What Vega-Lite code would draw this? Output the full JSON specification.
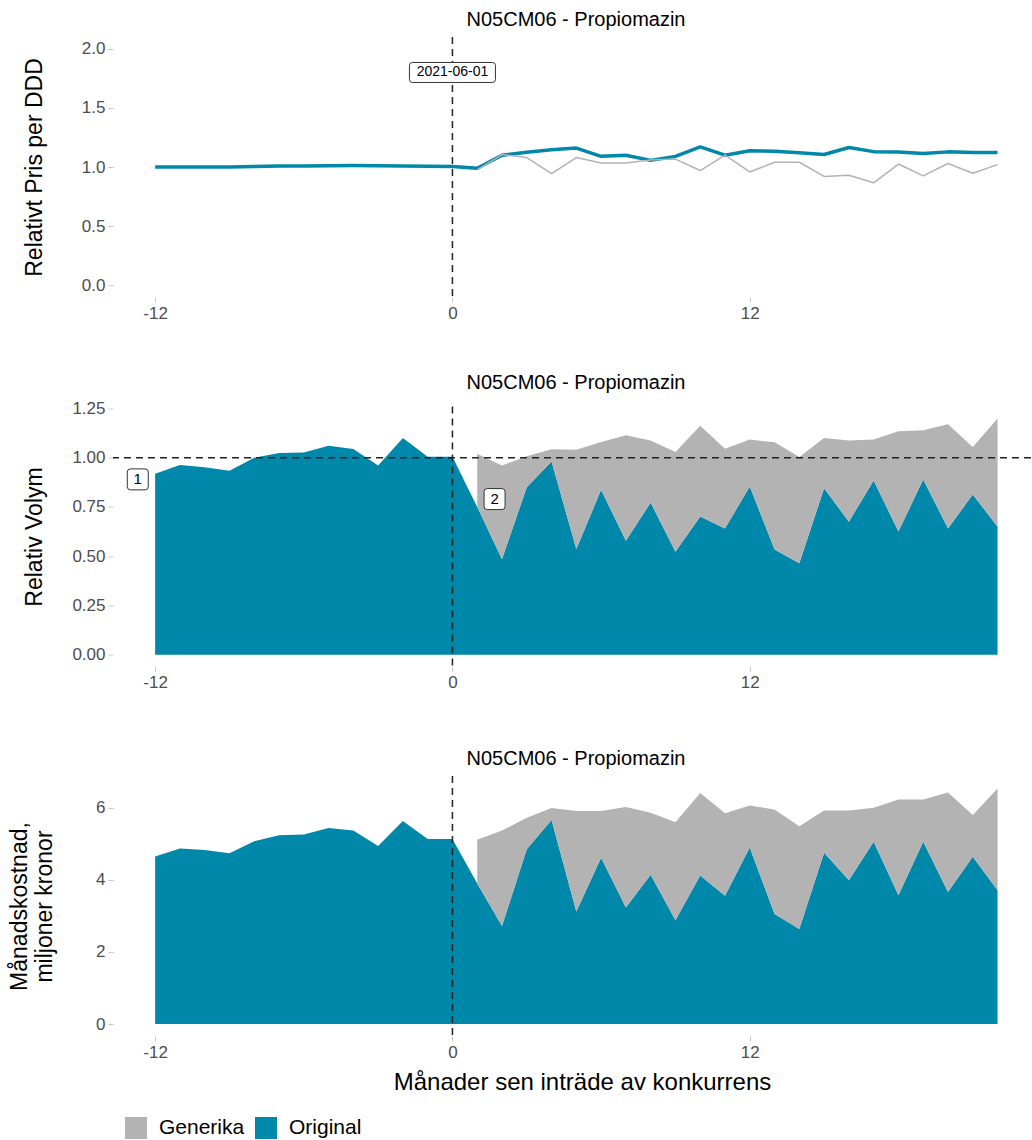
{
  "$schema": "https://vega.github.io/schema/vega-lite/v6.json",
  "padding": {"left": 8, "top": 10, "right": 0, "bottom": 0},
  "spacing": 109.5,
  "bounds": "flush",
  "resolve": {"legend": {"color": "independent"}},
  "datasets": {
    "price": [
      {"month": -12, "type": "Original", "value": 1.000},
      {"month": -11, "type": "Original", "value": 1.000},
      {"month": -10, "type": "Original", "value": 1.000},
      {"month": -9, "type": "Original", "value": 1.001},
      {"month": -8, "type": "Original", "value": 1.005},
      {"month": -7, "type": "Original", "value": 1.008},
      {"month": -6, "type": "Original", "value": 1.009},
      {"month": -5, "type": "Original", "value": 1.010},
      {"month": -4, "type": "Original", "value": 1.012},
      {"month": -3, "type": "Original", "value": 1.010},
      {"month": -2, "type": "Original", "value": 1.009},
      {"month": -1, "type": "Original", "value": 1.007},
      {"month": 0, "type": "Original", "value": 1.005},
      {"month": 1, "type": "Original", "value": 0.990},
      {"month": 2, "type": "Original", "value": 1.100},
      {"month": 3, "type": "Original", "value": 1.125},
      {"month": 4, "type": "Original", "value": 1.145},
      {"month": 5, "type": "Original", "value": 1.160},
      {"month": 6, "type": "Original", "value": 1.090},
      {"month": 7, "type": "Original", "value": 1.100},
      {"month": 8, "type": "Original", "value": 1.056},
      {"month": 9, "type": "Original", "value": 1.090},
      {"month": 10, "type": "Original", "value": 1.170},
      {"month": 11, "type": "Original", "value": 1.100},
      {"month": 12, "type": "Original", "value": 1.137},
      {"month": 13, "type": "Original", "value": 1.134},
      {"month": 14, "type": "Original", "value": 1.120},
      {"month": 15, "type": "Original", "value": 1.106},
      {"month": 16, "type": "Original", "value": 1.165},
      {"month": 17, "type": "Original", "value": 1.130},
      {"month": 18, "type": "Original", "value": 1.126},
      {"month": 19, "type": "Original", "value": 1.115},
      {"month": 20, "type": "Original", "value": 1.128},
      {"month": 21, "type": "Original", "value": 1.123},
      {"month": 22, "type": "Original", "value": 1.123},
      {"month": 1, "type": "Generika", "value": 0.975},
      {"month": 2, "type": "Generika", "value": 1.105},
      {"month": 3, "type": "Generika", "value": 1.080},
      {"month": 4, "type": "Generika", "value": 0.944},
      {"month": 5, "type": "Generika", "value": 1.080},
      {"month": 6, "type": "Generika", "value": 1.034},
      {"month": 7, "type": "Generika", "value": 1.034},
      {"month": 8, "type": "Generika", "value": 1.060},
      {"month": 9, "type": "Generika", "value": 1.067},
      {"month": 10, "type": "Generika", "value": 0.970},
      {"month": 11, "type": "Generika", "value": 1.100},
      {"month": 12, "type": "Generika", "value": 0.958},
      {"month": 13, "type": "Generika", "value": 1.040},
      {"month": 14, "type": "Generika", "value": 1.040},
      {"month": 15, "type": "Generika", "value": 0.920},
      {"month": 16, "type": "Generika", "value": 0.930},
      {"month": 17, "type": "Generika", "value": 0.866},
      {"month": 18, "type": "Generika", "value": 1.025},
      {"month": 19, "type": "Generika", "value": 0.925},
      {"month": 20, "type": "Generika", "value": 1.030},
      {"month": 21, "type": "Generika", "value": 0.947},
      {"month": 22, "type": "Generika", "value": 1.020}
    ],
    "volume": [
      {"month": -12, "type": "Original", "value": 0.918},
      {"month": -11, "type": "Original", "value": 0.963},
      {"month": -10, "type": "Original", "value": 0.952},
      {"month": -9, "type": "Original", "value": 0.934},
      {"month": -8, "type": "Original", "value": 1.000},
      {"month": -7, "type": "Original", "value": 1.024},
      {"month": -6, "type": "Original", "value": 1.027},
      {"month": -5, "type": "Original", "value": 1.061},
      {"month": -4, "type": "Original", "value": 1.044},
      {"month": -3, "type": "Original", "value": 0.961},
      {"month": -2, "type": "Original", "value": 1.100},
      {"month": -1, "type": "Original", "value": 1.005},
      {"month": 0, "type": "Original", "value": 1.005},
      {"month": 1, "type": "Original", "value": 0.750},
      {"month": 2, "type": "Original", "value": 0.485},
      {"month": 3, "type": "Original", "value": 0.850},
      {"month": 4, "type": "Original", "value": 0.981},
      {"month": 5, "type": "Original", "value": 0.536},
      {"month": 6, "type": "Original", "value": 0.837},
      {"month": 7, "type": "Original", "value": 0.578},
      {"month": 8, "type": "Original", "value": 0.772},
      {"month": 9, "type": "Original", "value": 0.522},
      {"month": 10, "type": "Original", "value": 0.702},
      {"month": 11, "type": "Original", "value": 0.641},
      {"month": 12, "type": "Original", "value": 0.854},
      {"month": 13, "type": "Original", "value": 0.534},
      {"month": 14, "type": "Original", "value": 0.464},
      {"month": 15, "type": "Original", "value": 0.845},
      {"month": 16, "type": "Original", "value": 0.675},
      {"month": 17, "type": "Original", "value": 0.884},
      {"month": 18, "type": "Original", "value": 0.626},
      {"month": 19, "type": "Original", "value": 0.889},
      {"month": 20, "type": "Original", "value": 0.641},
      {"month": 21, "type": "Original", "value": 0.813},
      {"month": 22, "type": "Original", "value": 0.650},
      {"month": 1, "type": "Generika", "value": 0.270},
      {"month": 2, "type": "Generika", "value": 0.476},
      {"month": 3, "type": "Generika", "value": 0.157},
      {"month": 4, "type": "Generika", "value": 0.062},
      {"month": 5, "type": "Generika", "value": 0.505},
      {"month": 6, "type": "Generika", "value": 0.243},
      {"month": 7, "type": "Generika", "value": 0.536},
      {"month": 8, "type": "Generika", "value": 0.316},
      {"month": 9, "type": "Generika", "value": 0.507},
      {"month": 10, "type": "Generika", "value": 0.460},
      {"month": 11, "type": "Generika", "value": 0.405},
      {"month": 12, "type": "Generika", "value": 0.238},
      {"month": 13, "type": "Generika", "value": 0.544},
      {"month": 14, "type": "Generika", "value": 0.539},
      {"month": 15, "type": "Generika", "value": 0.255},
      {"month": 16, "type": "Generika", "value": 0.413},
      {"month": 17, "type": "Generika", "value": 0.208},
      {"month": 18, "type": "Generika", "value": 0.508},
      {"month": 19, "type": "Generika", "value": 0.250},
      {"month": 20, "type": "Generika", "value": 0.529},
      {"month": 21, "type": "Generika", "value": 0.241},
      {"month": 22, "type": "Generika", "value": 0.549}
    ],
    "cost": [
      {"month": -12, "type": "Original", "value": 4.65},
      {"month": -11, "type": "Original", "value": 4.87},
      {"month": -10, "type": "Original", "value": 4.83},
      {"month": -9, "type": "Original", "value": 4.74},
      {"month": -8, "type": "Original", "value": 5.07},
      {"month": -7, "type": "Original", "value": 5.24},
      {"month": -6, "type": "Original", "value": 5.26},
      {"month": -5, "type": "Original", "value": 5.44},
      {"month": -4, "type": "Original", "value": 5.37},
      {"month": -3, "type": "Original", "value": 4.94},
      {"month": -2, "type": "Original", "value": 5.63},
      {"month": -1, "type": "Original", "value": 5.13},
      {"month": 0, "type": "Original", "value": 5.13},
      {"month": 1, "type": "Original", "value": 3.90},
      {"month": 2, "type": "Original", "value": 2.72},
      {"month": 3, "type": "Original", "value": 4.85},
      {"month": 4, "type": "Original", "value": 5.66},
      {"month": 5, "type": "Original", "value": 3.12},
      {"month": 6, "type": "Original", "value": 4.61},
      {"month": 7, "type": "Original", "value": 3.23},
      {"month": 8, "type": "Original", "value": 4.14},
      {"month": 9, "type": "Original", "value": 2.88},
      {"month": 10, "type": "Original", "value": 4.12},
      {"month": 11, "type": "Original", "value": 3.56},
      {"month": 12, "type": "Original", "value": 4.90},
      {"month": 13, "type": "Original", "value": 3.05},
      {"month": 14, "type": "Original", "value": 2.64},
      {"month": 15, "type": "Original", "value": 4.75},
      {"month": 16, "type": "Original", "value": 3.99},
      {"month": 17, "type": "Original", "value": 5.06},
      {"month": 18, "type": "Original", "value": 3.57},
      {"month": 19, "type": "Original", "value": 5.06},
      {"month": 20, "type": "Original", "value": 3.66},
      {"month": 21, "type": "Original", "value": 4.64},
      {"month": 22, "type": "Original", "value": 3.71},
      {"month": 1, "type": "Generika", "value": 1.21},
      {"month": 2, "type": "Generika", "value": 2.65},
      {"month": 3, "type": "Generika", "value": 0.87},
      {"month": 4, "type": "Generika", "value": 0.33},
      {"month": 5, "type": "Generika", "value": 2.79},
      {"month": 6, "type": "Generika", "value": 1.30},
      {"month": 7, "type": "Generika", "value": 2.79},
      {"month": 8, "type": "Generika", "value": 1.72},
      {"month": 9, "type": "Generika", "value": 2.72},
      {"month": 10, "type": "Generika", "value": 2.29},
      {"month": 11, "type": "Generika", "value": 2.29},
      {"month": 12, "type": "Generika", "value": 1.16},
      {"month": 13, "type": "Generika", "value": 2.90},
      {"month": 14, "type": "Generika", "value": 2.85},
      {"month": 15, "type": "Generika", "value": 1.17},
      {"month": 16, "type": "Generika", "value": 1.93},
      {"month": 17, "type": "Generika", "value": 0.94},
      {"month": 18, "type": "Generika", "value": 2.66},
      {"month": 19, "type": "Generika", "value": 1.17},
      {"month": 20, "type": "Generika", "value": 2.76},
      {"month": 21, "type": "Generika", "value": 1.16},
      {"month": 22, "type": "Generika", "value": 2.82}
    ]
  },
  "vconcat": [
    {
      "width": 918,
      "height": 260,
      "title": {"text": "N05CM06 - Propiomazin", "dx": 4},
      "layer": [
        {
          "data": {"name": "price"},
          "mark": {"type": "line", "strokeJoin": "round"},
          "encoding": {
            "x": {"field": "month", "type": "quantitative", "scale": {"domain": [-13.7, 23.35], "nice": false, "zero": false}, "axis": {"values": [-12, 0, 12], "title": null, "labelExpr": "'' + datum.value"}},
            "y": {"field": "value", "type": "quantitative", "scale": {"domain": [-0.1, 2.1], "nice": false, "zero": false}, "axis": {"values": [0, 0.5, 1, 1.5, 2], "format": ".1f", "title": "Relativt Pris per DDD", "titleX": -79, "titleBaseline": "middle"}},
            "color": {"field": "type", "type": "nominal", "scale": {"domain": ["Generika", "Original"], "range": ["#B3B3B3", "#0088AA"]}, "legend": null},
            "strokeWidth": {"field": "type", "type": "nominal", "scale": {"domain": ["Generika", "Original"], "range": [1.5, 3.5]}, "legend": null}
          }
        },
        {
          "data": {"values": [{"month": 0}]},
          "mark": {"type": "rule", "strokeDash": [7, 5], "color": "#222222", "strokeWidth": 1.5},
          "encoding": {"x": {"field": "month", "type": "quantitative"}}
        },
        {
          "data": {"values": [{"month": 0, "value": 1.8, "label": "2021-06-01"}]},
          "mark": {"type": "point", "shape": "M -4 -1 H 4 Q 4.3 -1 4.3 -0.7 V 0.7 Q 4.3 1 4 1 H -4 Q -4.3 1 -4.3 0.7 V -0.7 Q -4.3 -1 -4 -1 Z", "size": 400, "filled": true, "fill": "white", "stroke": "#333333", "strokeWidth": 1, "opacity": 1},
          "encoding": {"x": {"field": "month", "type": "quantitative"}, "y": {"field": "value", "type": "quantitative"}}
        },
        {
          "data": {"values": [{"month": 0, "value": 1.8, "label": "2021-06-01"}]},
          "mark": {"type": "text", "fontSize": 14, "color": "#000000", "baseline": "middle", "align": "center"},
          "encoding": {"x": {"field": "month", "type": "quantitative"}, "y": {"field": "value", "type": "quantitative"}, "text": {"field": "label"}}
        }
      ]
    },
    {
      "width": 918,
      "height": 260,
      "title": {"text": "N05CM06 - Propiomazin", "dx": 4},
      "layer": [
        {
          "data": {"name": "volume"},
          "mark": {"type": "area", "opacity": 1},
          "encoding": {
            "x": {"field": "month", "type": "quantitative", "scale": {"domain": [-13.7, 23.35], "nice": false, "zero": false}, "axis": {"values": [-12, 0, 12], "title": null, "labelExpr": "'' + datum.value"}},
            "y": {"field": "value", "type": "quantitative", "stack": "zero", "impute": null, "scale": {"domain": [-0.06, 1.26], "nice": false, "zero": false}, "axis": {"values": [0, 0.25, 0.5, 0.75, 1, 1.25], "format": ".2f", "title": "Relativ Volym", "titleX": -79, "titleBaseline": "middle"}},
            "color": {"field": "type", "type": "nominal", "scale": {"domain": ["Generika", "Original"], "range": ["#B3B3B3", "#0088AA"]}, "legend": null},
            "order": {"field": "type", "sort": "descending"}
          }
        },
        {
          "data": {"values": [{"month": 0}]},
          "mark": {"type": "rule", "strokeDash": [7, 5], "color": "#222222", "strokeWidth": 1.5},
          "encoding": {"x": {"field": "month", "type": "quantitative"}}
        },
        {
          "data": {"values": [{"value": 1}]},
          "mark": {"type": "rule", "strokeDash": [7, 5], "color": "#222222", "strokeWidth": 1.5},
          "encoding": {"y": {"field": "value", "type": "quantitative"}}
        },
        {
          "data": {"values": [{"month": -12.7, "value": 0.89, "label": "1"}, {"month": 1.7, "value": 0.79, "label": "2"}]},
          "mark": {"type": "point", "shape": "M -0.7 -1 H 0.7 Q 1 -1 1 -0.7 V 0.7 Q 1 1 0.7 1 H -0.7 Q -1 1 -1 0.7 V -0.7 Q -1 -1 -0.7 -1 Z", "size": 441, "filled": true, "fill": "white", "stroke": "#333333", "strokeWidth": 1, "opacity": 1},
          "encoding": {"x": {"field": "month", "type": "quantitative"}, "y": {"field": "value", "type": "quantitative"}}
        },
        {
          "data": {"values": [{"month": -12.7, "value": 0.89, "label": "1"}, {"month": 1.7, "value": 0.79, "label": "2"}]},
          "mark": {"type": "text", "fontSize": 15, "color": "#000000", "baseline": "middle", "align": "center"},
          "encoding": {"x": {"field": "month", "type": "quantitative"}, "y": {"field": "value", "type": "quantitative"}, "text": {"field": "label"}}
        }
      ]
    },
    {
      "width": 918,
      "height": 260,
      "title": {"text": "N05CM06 - Propiomazin", "dx": 4},
      "layer": [
        {
          "data": {"name": "cost"},
          "mark": {"type": "area", "opacity": 1},
          "encoding": {
            "x": {"field": "month", "type": "quantitative", "scale": {"domain": [-13.7, 23.35], "nice": false, "zero": false}, "axis": {"values": [-12, 0, 12], "labelExpr": "'' + datum.value", "title": "Månader sen inträde av konkurrens", "titleX": 469, "titleY": 46, "titleBaseline": "middle", "titleFontSize": 24}},
            "y": {"field": "value", "type": "quantitative", "stack": "zero", "impute": null, "scale": {"domain": [-0.33, 6.88], "nice": false, "zero": false}, "axis": {"values": [0, 2, 4, 6], "title": ["Månadskostnad,", "miljoner kronor"], "titleX": -93.5, "titleBaseline": "middle", "titleLineHeight": 25}},
            "color": {"field": "type", "type": "nominal", "scale": {"domain": ["Generika", "Original"], "range": ["#B3B3B3", "#0088AA"]}, "legend": {"orient": "none", "legendX": 12, "legendY": 341, "direction": "horizontal", "title": null}},
            "order": {"field": "type", "sort": "descending"}
          }
        },
        {
          "data": {"values": [{"month": 0}]},
          "mark": {"type": "rule", "strokeDash": [7, 5], "color": "#222222", "strokeWidth": 1.5},
          "encoding": {"x": {"field": "month", "type": "quantitative"}}
        }
      ]
    }
  ],
  "config": {
    "font": "Liberation Sans",
    "view": {"stroke": null},
    "axis": {"domain": false, "grid": false, "tickColor": "#c8c8c8", "tickSize": 5, "tickWidth": 1, "labelFontSize": 17, "labelColor": "#4d4d4d", "labelPadding": 3, "titleFontSize": 23, "titleFontWeight": "normal", "titleColor": "#000000"},
    "title": {"fontSize": 20, "fontWeight": "normal", "color": "#000000", "offset": 6, "anchor": "middle"},
    "legend": {"symbolType": "square", "symbolSize": 484, "symbolStrokeWidth": 0, "symbolOpacity": 1, "labelFontSize": 21, "labelColor": "#000000", "labelOffset": 12, "columnPadding": 10, "padding": 0}
  }
}
